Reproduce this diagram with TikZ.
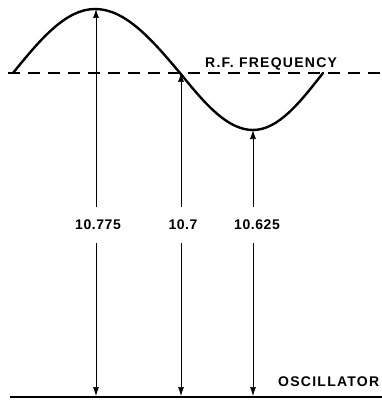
\documentclass[tikz,border=0pt]{standalone}
\usepackage{fontspec}
\setmainfont{Liberation Sans}[LetterSpace=4]
\usetikzlibrary{positioning,arrows.meta}

\begin{document}
\begin{tikzpicture}[x=1pt, y=-1pt, font=\fontsize{14}{16}\selectfont\bfseries,
    wave/.style={line width=2.4pt, line cap=round},
    level/.style={line width=1.1pt, dash pattern=on 12pt off 8pt},
    base/.style={line width=2.6pt},
    arr/.style={line width=0.7pt, -{Latex[length=9pt,width=6pt]}},
    title/.style={anchor=base west, inner sep=0pt,
      font=\fontsize{14}{16}\selectfont\bfseries\addfontfeature{LetterSpace=9}},
    value/.style={inner xsep=0pt, inner ysep=13pt}]
  \useasboundingbox (0,0) rectangle (382,401);

  % r.f. frequency curve and its level
  \draw[level] (8,73) -- (382,73);
  \draw[wave] (13,73) .. controls (39.7,40.2) and (65.4,9) .. (95,9)
    .. controls (125.7,9) and (152.3,40.2) .. (180,73)
    .. controls (203.8,102.2) and (226.7,130) .. (253,130)
    .. controls (278.3,130) and (300.2,102.2) .. (323,73);
  \node[title] (rf) at (205,68) {R.F. FREQUENCY};

  % oscillator line
  \draw[base] (10,397) -- (382,397);
  \node[title] (osc) at (278,386) {OSCILLATOR};

  \coordinate (peak)  at (96,9);
  \coordinate (cross) at (181,73);
  \coordinate (dip)   at (253,130);
  \coordinate (footA) at (96,396);
  \coordinate (footB) at (181,396);
  \coordinate (footC) at (253,396);

  \node[value] (hi)  at (98,225)  {10.775};
  \node[value] (mid) at (183,225) {10.7};
  \node[value] (lo)  at (257,225) {10.625};

  \foreach \lbl/\top/\foot in {hi/peak/footA, mid/cross/footB, lo/dip/footC} {
    \draw[arr] (\lbl.north -| \top) -- (\top);
    \draw[arr] (\lbl.south -| \foot) -- (\foot);
  }
\end{tikzpicture}
\end{document}
